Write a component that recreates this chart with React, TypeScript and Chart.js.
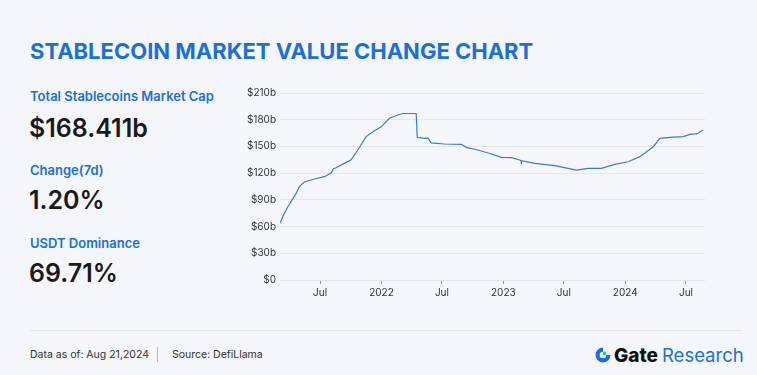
import React, { useEffect, useRef } from "react";
import { Chart, registerables } from "chart.js";

Chart.register(...registerables);

const dates = ["2021-03-03","2021-03-11","2021-03-26","2021-04-20","2021-04-30","2021-05-15","2021-06-14","2021-07-14","2021-08-03","2021-08-10","2021-08-18","2021-09-12","2021-10-02","2021-10-22","2021-11-16","2021-12-06","2021-12-31","2022-01-25","2022-02-19","2022-03-06","2022-04-15","2022-04-18","2022-05-10","2022-05-20","2022-05-30","2022-07-09","2022-08-28","2022-09-12","2022-10-17","2022-11-26","2022-12-26","2023-01-25","2023-02-19","2023-02-23","2023-02-24","2023-02-25","2023-04-05","2023-06-04","2023-08-08","2023-09-12","2023-10-22","2023-12-01","2024-01-10","2024-02-14","2024-03-05","2024-03-25","2024-04-14","2024-05-14","2024-06-23","2024-07-13","2024-08-02","2024-08-21"];
const values = [63.7,71,82,97,105,110,113.4,116,120,125,126,131,135,146,161,166.5,172,181.6,185.3,187,187,160,159,159.5,154,152.7,152.4,149,146,141.5,137.8,137.5,134.8,134,130,134,131,128.4,123.5,125.4,125.4,129.9,132.8,138.5,144,149.7,159,160.2,161,163.6,164,168.4];

const xTickDates = ["2021-07-01","2022-01-01","2022-07-01","2023-01-01","2023-07-01","2024-01-01","2024-07-01"];
const xTickLabels = ["Jul","2022","Jul","2023","Jul","2024","Jul"];
const yTicks = [0,30,60,90,120,150,180,210];
const yTickLabels = ["$0","$30b","$60b","$90b","$120b","$150b","$180b","$210b"];

const xMinDate = "2021-03-03";
const xMaxDate = "2024-08-27";

const toMs = (s: string) => Date.parse(s + "T00:00:00Z");

const FONT = "Inter, 'Open Sans', sans-serif";

function LineChart() {
  const ref = useRef<HTMLCanvasElement | null>(null);
  useEffect(() => {
    if (!ref.current) return;
    const tickVals = xTickDates.map(toMs);
    const chart = new Chart(ref.current, {
      type: "line",
      data: {
        datasets: [
          {
            data: dates.map((d, i) => ({ x: toMs(d), y: values[i] })),
            borderColor: "#3f7cc8",
            borderWidth: 1.2,
            pointRadius: 0,
            tension: 0,
            fill: false,
          },
        ],
      },
      options: {
        animation: false,
        responsive: false,
        maintainAspectRatio: false,
        layout: { padding: { top: 13, right: 0, bottom: 0, left: 0 } },
        plugins: { legend: { display: false }, tooltip: { enabled: false } },
        scales: {
          x: {
            type: "linear",
            min: toMs(xMinDate),
            max: toMs(xMaxDate),
            afterBuildTicks: (scale: any) => {
              scale.ticks = tickVals.map((v) => ({ value: v }));
            },
            afterFit: (scale: any) => {
              scale.height = 25;
            },
            ticks: {
              autoSkip: false,
              maxRotation: 0,
              padding: 3,
              color: "#333333",
              font: { family: FONT, size: 10 },
              callback: (v: any) => {
                const i = tickVals.indexOf(Number(v));
                return i >= 0 ? xTickLabels[i] : "";
              },
            },
            grid: {
              drawOnChartArea: false,
              drawTicks: true,
              tickLength: 4,
              color: "#9a9a9a",
            },
            border: { display: false },
          },
          y: {
            type: "linear",
            min: 0,
            max: 210,
            afterBuildTicks: (scale: any) => {
              scale.ticks = yTicks.map((v) => ({ value: v }));
            },
            afterFit: (scale: any) => {
              scale.width = 50;
            },
            ticks: {
              padding: 4,
              color: "#333333",
              font: { family: FONT, size: 10 },
              callback: (v: any) => {
                const i = yTicks.indexOf(Number(v));
                return i >= 0 ? yTickLabels[i] : "";
              },
            },
            grid: {
              color: "#e3e6eb",
              drawTicks: false,
              lineWidth: 1,
            },
            border: { display: false },
          },
        },
      },
    });
    return () => chart.destroy();
  }, []);
  return (
    <canvas
      ref={ref}
      width={475}
      height={225}
      style={{ position: "absolute", left: 230, top: 80, width: 475, height: 225 }}
    />
  );
}

export default function App() {
  const blue = "#1b6fd8";
  const dark = "#1a1a1a";
  const label: React.CSSProperties = {
    position: "absolute",
    left: 30,
    color: blue,
    fontSize: 13,
    fontWeight: 600,
    lineHeight: "16px",
    whiteSpace: "nowrap",
  };
  const big: React.CSSProperties = {
    position: "absolute",
    left: 29,
    color: dark,
    fontSize: 25,
    fontWeight: 600,
    lineHeight: "30px",
    whiteSpace: "nowrap",
  };
  return (
    <div
      style={{
        position: "fixed",
        left: 0,
        top: 0,
        width: 757,
        height: 375,
        background: "#f4f6f9",
        fontFamily: FONT,
        overflow: "hidden",
      }}
    >
      <div
        style={{
          position: "absolute",
          left: 30,
          top: 36,
          fontSize: 22,
          fontWeight: 700,
          color: blue,
          lineHeight: "30px",
          whiteSpace: "nowrap",
        }}
      >
        STABLECOIN MARKET VALUE CHANGE CHART
      </div>
      <div style={{ ...label, top: 88 }}>Total Stablecoins Market Cap</div>
      <div style={{ ...big, top: 113 }}>$168.411b</div>
      <div style={{ ...label, top: 162 }}>Change(7d)</div>
      <div style={{ ...big, top: 185 }}>1.20%</div>
      <div style={{ ...label, top: 235 }}>USDT Dominance</div>
      <div style={{ ...big, top: 258 }}>69.71%</div>
      <LineChart />
      <div
        style={{
          position: "absolute",
          left: 30,
          top: 330,
          width: 712,
          height: 1,
          background: "#e2e5ea",
        }}
      />
      <div
        style={{
          position: "absolute",
          left: 30,
          top: 348,
          fontSize: 10.5,
          color: "#333",
          lineHeight: "14px",
          whiteSpace: "nowrap",
        }}
      >
        Data as of: Aug 21,2024
      </div>
      <div
        style={{
          position: "absolute",
          left: 157,
          top: 347,
          width: 1,
          height: 15,
          background: "#b5b8bd",
        }}
      />
      <div
        style={{
          position: "absolute",
          left: 172,
          top: 348,
          fontSize: 10.5,
          color: "#333",
          lineHeight: "14px",
          whiteSpace: "nowrap",
        }}
      >
        Source: DefiLlama
      </div>
      <div
        style={{
          position: "absolute",
          left: 594,
          top: 343,
          height: 24,
          display: "flex",
          alignItems: "center",
          whiteSpace: "nowrap",
        }}
      >
        <svg width="18" height="18" viewBox="0 0 18 18" style={{ marginRight: 2 }}>
          <path
            d="M9 1.5 A7.5 7.5 0 1 0 16.5 9 L12.3 9 A3.3 3.3 0 1 1 9 5.7 Z"
            fill="#1b6fd8"
          />
          <rect x="9" y="5.7" width="3.3" height="3.3" fill="#2fd17a" />
        </svg>
        <span style={{ fontSize: 19, fontWeight: 800, color: "#111" }}>Gate</span>
        <span style={{ fontSize: 18.5, fontWeight: 400, color: blue, marginLeft: 4 }}>
          Research
        </span>
      </div>
    </div>
  );
}
